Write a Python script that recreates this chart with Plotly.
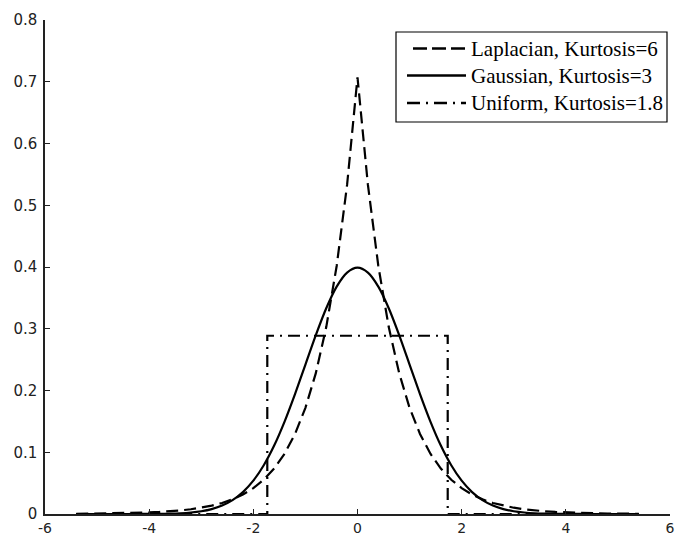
import plotly.graph_objects as go

# x grid (step 0.2) from -5.4 to 5.4
x_vals = [round(-5.4 + 0.2 * i, 1) for i in range(55)]

# half-curves for x = 0, 0.2, ..., 5.4 (symmetric densities)
gauss_half = [0.3989, 0.3910, 0.3683, 0.3332, 0.2897, 0.2420, 0.1942, 0.1497, 0.1109,
              0.0790, 0.0540, 0.0355, 0.0224, 0.0136, 0.0079, 0.0044, 0.0024, 0.0012,
              0.0006, 0.0003, 0.0001, 0.0001, 0.0000, 0.0000, 0.0000, 0.0000, 0.0000, 0.0000]
laplace_half = [0.7071, 0.5329, 0.4016, 0.3027, 0.2281, 0.1719, 0.1296, 0.0976, 0.0736,
                0.0555, 0.0418, 0.0315, 0.0237, 0.0179, 0.0135, 0.0102, 0.0077, 0.0058,
                0.0043, 0.0033, 0.0025, 0.0019, 0.0014, 0.0011, 0.0008, 0.0006, 0.0005, 0.0003]

gauss_vals = gauss_half[:0:-1] + gauss_half
laplace_vals = laplace_half[:0:-1] + laplace_half

uniform_x = [-5.4, -1.7321, -1.7321, 1.7321, 1.7321, 5.4]
uniform_y = [0.0, 0.0, 0.2887, 0.2887, 0.0, 0.0]

names = ["Laplacian, Kurtosis=6", "Gaussian, Kurtosis=3", "Uniform, Kurtosis=1.8"]
dashes = ["12px,6px", "solid", "12px,6px,2px,6px"]
legend_dashes = ["14px,5px", "solid", "13px,6px,2px,6px"]

x_ticks = [-6, -4, -2, 0, 2, 4, 6]
y_ticks = [0, 0.1, 0.2, 0.3, 0.4, 0.5, 0.6, 0.7, 0.8]
y_labels = ["0", "0.1", "0.2", "0.3", "0.4", "0.5", "0.6", "0.7", "0.8"]

fig = go.Figure()
fig.add_trace(go.Scatter(x=x_vals, y=laplace_vals, mode="lines", name=names[0],
                         line=dict(color="black", width=2.2, dash=dashes[0])))
fig.add_trace(go.Scatter(x=x_vals, y=gauss_vals, mode="lines", name=names[1],
                         line=dict(color="black", width=2.2, dash=dashes[1],
                                   shape="spline", smoothing=0.8)))
fig.add_trace(go.Scatter(x=uniform_x, y=uniform_y, mode="lines", name=names[2],
                         line=dict(color="black", width=2.2, dash=dashes[2])))

# ---- legend box drawn in paper coordinates (plot area 45..670 x 20..514 px) ----
L, R, T, B = 45.0, 670.0, 20.0, 514.0
def px(xp):
    return (xp - L) / (R - L)
def py(yp):
    return (B - yp) / (B - T)

fig.add_shape(type="rect", xref="paper", yref="paper",
              x0=px(396), x1=px(667), y0=py(122), y1=py(32),
              line=dict(color="black", width=1.2), fillcolor="white", layer="above")
row_y = [48.5, 75.5, 103]
line_x0 = [413, 407, 407]
for i in range(3):
    fig.add_shape(type="line", xref="paper", yref="paper",
                  x0=px(line_x0[i]), x1=px(466), y0=py(row_y[i]), y1=py(row_y[i]),
                  line=dict(color="black", width=2.4, dash=legend_dashes[i]), layer="above")
    fig.add_annotation(xref="paper", yref="paper", x=px(469), y=py(row_y[i]),
                       xanchor="left", yanchor="middle", showarrow=False,
                       text=names[i],
                       font=dict(family="Liberation Serif", size=21, color="black"))

fig.update_layout(
    width=675, height=537,
    margin=dict(l=45, r=5, t=20, b=23, autoexpand=False),
    paper_bgcolor="white", plot_bgcolor="white",
    showlegend=False,
    xaxis=dict(
        range=[-6, 6], tickvals=x_ticks, ticktext=[str(v) for v in x_ticks],
        ticks="inside", ticklen=5, tickcolor="#222", showline=True,
        linecolor="#222", linewidth=1.5, showgrid=False, zeroline=False,
        tickfont=dict(family="DejaVu Sans", size=14, color="#222"),
        ticklabelstandoff=0, automargin=False, ticklabeloverflow="allow",
    ),
    yaxis=dict(
        range=[0, 0.8], tickvals=y_ticks, ticktext=y_labels,
        ticks="inside", ticklen=5, tickcolor="#222", showline=True,
        linecolor="#222", linewidth=1.5, showgrid=False, zeroline=False,
        tickfont=dict(family="DejaVu Sans", size=15, color="#222"),
        ticklabelstandoff=3, automargin=False, ticklabeloverflow="allow",
    ),
)

fig.write_html("out.html")
